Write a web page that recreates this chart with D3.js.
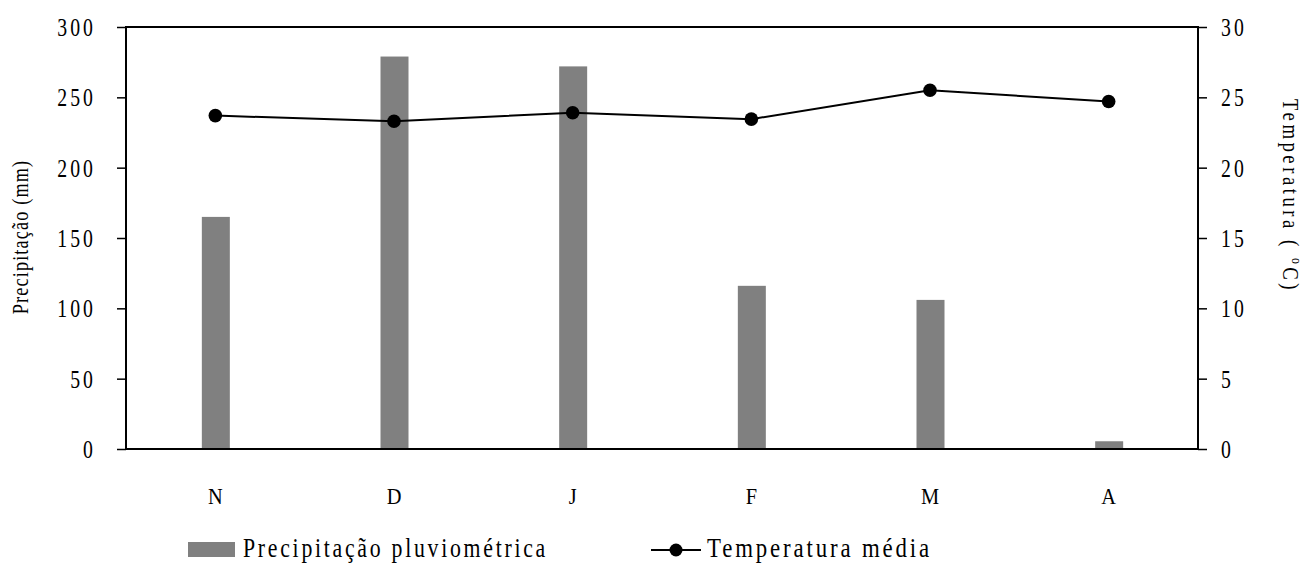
<!DOCTYPE html>
<html><head><meta charset="utf-8">
<script src="https://cdn.jsdelivr.net/npm/d3@7"></script>
<style>body{margin:0;background:#fff}svg{display:block}text{font-family:"Liberation Serif","Times New Roman",serif;fill:#000}</style>
</head><body>
<svg id="c" width="1308" height="563"></svg>
<script>
const months = ["N","D","J","F","M","A"];
const precipitation = [165, 279, 272, 116, 106, 5.5];
const temperature = [23.7, 23.3, 23.9, 23.45, 25.5, 24.7];
const leftTicks = [0,50,100,150,200,250,300];
const rightTicks = [0,5,10,15,20,25,30];

const svg = d3.select("#c");
const L=126, R=1198, T=27, B=449;
const x = d3.scaleBand().domain(months).range([L,R]);
const yP = d3.scaleLinear().domain([0,300]).range([B,T]);
const yT = d3.scaleLinear().domain([0,30]).range([B,T]);
const bw = 28;
const cx = m => x(m)+x.bandwidth()/2;

// condensed text helper
function ctext(g, px, py, str, size, sx, ls, anchor, rot){
  return g.append("text")
    .attr("transform",`translate(${px},${py})${rot?` rotate(${rot})`:""} scale(${sx},1)`)
    .attr("font-size",size).attr("letter-spacing",ls+"px")
    .attr("text-anchor",anchor||"start").text(str);
}

// bars
svg.selectAll("rect.bar").data(precipitation).join("rect").attr("class","bar")
  .attr("x",(d,i)=>cx(months[i])-bw/2+0.5)
  .attr("width",bw)
  .attr("y",d=>yP(d)).attr("height",d=>B-yP(d))
  .attr("fill","#808080");

// frame
svg.append("rect").attr("x",L).attr("y",T).attr("width",R-L).attr("height",B-T)
  .attr("fill","none").attr("stroke","#000").attr("stroke-width",2);

// left axis
const la = svg.append("g").attr("transform",`translate(${L},0)`)
  .call(d3.axisLeft(yP).tickValues(leftTicks).tickSize(9).tickFormat(""));
la.select(".domain").remove();
la.selectAll("line").attr("stroke","#000").attr("stroke-width",1.5);
const lg = svg.append("g");
leftTicks.forEach(t=>ctext(lg, 96, yP(t)+9, d3.format("d")(t), 26, 0.76, 4, "end"));

// right axis
const ra = svg.append("g").attr("transform",`translate(${R},0)`)
  .call(d3.axisRight(yT).tickValues(rightTicks).tickSize(9).tickFormat(""));
ra.select(".domain").remove();
ra.selectAll("line").attr("stroke","#000").attr("stroke-width",1.5);
const rg = svg.append("g");
rightTicks.forEach(t=>ctext(rg, 1221, yT(t)+9, d3.format("d")(t), 26, 0.76, 4, "start"));

// x labels
const xg = svg.append("g");
months.forEach(m=>ctext(xg, cx(m), 504, m, 24, 0.85, 0, "middle"));

// temperature line
const line = d3.line().x((d,i)=>cx(months[i])).y(d=>yT(d));
svg.append("path").datum(temperature).attr("d",line).attr("fill","none")
  .attr("stroke","#000").attr("stroke-width",2);
svg.selectAll("circle.pt").data(temperature).join("circle").attr("class","pt")
  .attr("cx",(d,i)=>cx(months[i])).attr("cy",d=>yT(d)).attr("r",6.8).attr("fill","#000");

// axis titles
ctext(svg, 28, 237, "Precipitação (mm)", 24, 0.76, 1.5, "middle", -90);
const rt = ctext(svg, 1283, 196, "", 24, 0.78, 4.5, "middle", 90);
rt.append("tspan").text("Temperatura ( ");
rt.append("tspan").attr("font-size",15).attr("dy",-9).text("o");
rt.append("tspan").attr("dy",9).text("C)");

// legend
svg.append("rect").attr("x",188).attr("y",542).attr("width",47).attr("height",15).attr("fill","#808080");
svg.append("text").attr("x",243).attr("y",557).attr("font-size",28).attr("letter-spacing","3.5px")
  .attr("textLength",305).attr("lengthAdjust","spacingAndGlyphs").text("Precipitação pluviométrica");
svg.append("line").attr("x1",651).attr("x2",701).attr("y1",550).attr("y2",550).attr("stroke","#000").attr("stroke-width",2);
svg.append("circle").attr("cx",676).attr("cy",550).attr("r",6.5).attr("fill","#000");
svg.append("text").attr("x",707).attr("y",557).attr("font-size",28).attr("letter-spacing","3.5px")
  .attr("textLength",225).attr("lengthAdjust","spacingAndGlyphs").text("Temperatura média");
</script>
</body></html>
